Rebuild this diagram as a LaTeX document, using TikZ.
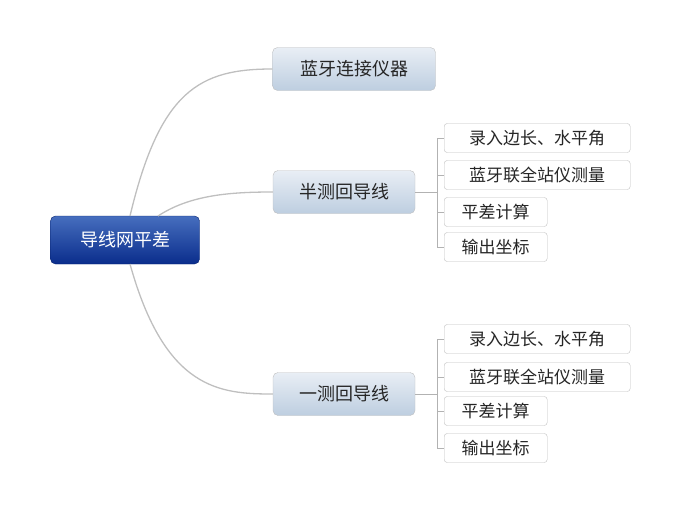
\documentclass[tikz,border=0pt]{standalone}
\usepackage{fontspec}
\setmainfont{Noto Sans CJK SC}
\usetikzlibrary{positioning}
\definecolor{rootTop}{RGB}{70,110,190}
\definecolor{rootBot}{RGB}{10,45,140}
\definecolor{topicTop}{RGB}{232,238,245}
\definecolor{topicBot}{RGB}{190,206,224}

\begin{document}
\begin{tikzpicture}[x=1pt,y=-1pt]
\tikzset{
   root/.style = {rectangle, rounded corners = 5pt, draw = rootBot!80!black, top color = rootTop, bottom color = rootBot, text = white, minimum width = 149pt, minimum height = 48pt, font = \fontsize{18}{18}\selectfont},
   topic/.style = {rectangle, rounded corners = 5pt, draw = black!25, top color = topicTop, bottom color = topicBot, text = black!85, minimum height = 43pt, font = \fontsize{18}{18}\selectfont},
   leaf/.style = {rectangle, rounded corners = 3pt, draw = black!25, fill = white, minimum height = 29pt, anchor = west, text = black!85, align = left, inner xsep = 9pt, font = \fontsize{17}{17}\selectfont},
   branch/.style = {draw = black!25, line width = 1.3pt},
   twig/.style = {draw = black!30, line width = 0.6pt}
}
\useasboundingbox (0,0) rectangle (679,511);

  \node[root] (net) at (125,240) {导线网平差};

  \node[topic, minimum width = 163pt] (bt) at (354,69) {蓝牙连接仪器};
  \node[topic, minimum width = 142pt] (half) at (344,192) {半测回导线};
  \node[topic, minimum width = 142pt] (full) at (344,394) {一测回导线};

  \draw[branch] (130,216) .. controls (160,90) and (200,69) .. (bt.west);
  \draw[branch] (158,216) .. controls (190,195) and (230,192) .. (half.west);
  \draw[branch] (130,264) .. controls (165,390) and (220,394) .. (full.west);

  % leaves of the half round
  \node[leaf, minimum width = 186pt] (h1) at (444,138) {录入边长、水平角};
  \node[leaf, minimum width = 186pt] (h2) at (444,175) {蓝牙联全站仪测量};
  \node[leaf, minimum width = 103pt] (h3) at (444,212) {平差计算};
  \node[leaf, minimum width = 103pt] (h4) at (444,247) {输出坐标};
  \coordinate (hj) at (437,192);
  \draw[twig] (half.east) -- (hj);
  \foreach \l in {h1,h2,h3,h4}
     \draw[twig] (hj) |- (\l.west);

  % leaves of the full round
  \node[leaf, minimum width = 186pt] (f1) at (444,339) {录入边长、水平角};
  \node[leaf, minimum width = 186pt] (f2) at (444,377) {蓝牙联全站仪测量};
  \node[leaf, minimum width = 103pt] (f3) at (444,411) {平差计算};
  \node[leaf, minimum width = 103pt] (f4) at (444,448) {输出坐标};
  \coordinate (fj) at (437,394);
  \draw[twig] (full.east) -- (fj);
  \foreach \l in {f1,f2,f3,f4}
     \draw[twig] (fj) |- (\l.west);

\end{tikzpicture}
\end{document}
